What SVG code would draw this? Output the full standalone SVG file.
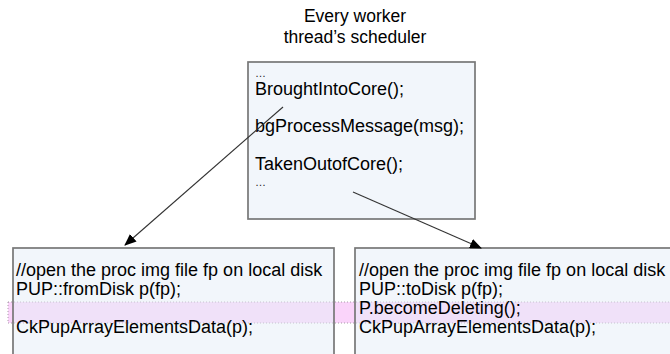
<svg xmlns="http://www.w3.org/2000/svg" width="670" height="354" viewBox="0 0 670 354">
  <defs>
    <marker id="arrow" markerWidth="12" markerHeight="10" refX="11" refY="5" orient="auto" markerUnits="userSpaceOnUse">
      <path d="M0,0 L12,5 L0,10 Z" fill="#000"/>
    </marker>
    <style>
      text { font-family: "Liberation Sans", Arial, sans-serif; font-size: 18px; fill: #000; }
      .title { text-anchor: middle; font-size: 17.5px; }
      .dots { font-size: 11px; fill: #222; }
      .box { fill: rgb(230,237,247); fill-opacity: 0.5; stroke: #777; stroke-width: 1.7; }
      .band { fill: #fad4fa; stroke: #a89aa8; stroke-width: 1; stroke-dasharray: 1 2; }
      .conn { stroke: #333; stroke-width: 1.1; fill: none; marker-end: url(#arrow); }
    </style>
  </defs>

  <!-- highlighted row spanning both lower panels -->
  <rect class="band" x="8" y="302" width="680" height="21"/>

  <g id="scheduler-title">
    <text class="title" x="355" y="22">Every worker</text>
    <text class="title" x="355" y="43">thread’s scheduler</text>
  </g>

  <g id="scheduler">
    <rect class="box" x="248" y="62" width="227" height="157"/>
    <text class="dots" x="255" y="77">…</text>
    <text x="255" y="95">BroughtIntoCore();</text>
    <text x="255" y="132">bgProcessMessage(msg);</text>
    <text x="255" y="170">TakenOutofCore();</text>
    <text class="dots" x="255" y="186">…</text>
  </g>

  <g id="bring-in">
    <rect class="box" x="13" y="248" width="321" height="120"/>
    <text x="16" y="276">//open the proc img file fp on local disk</text>
    <text x="16" y="295">PUP::fromDisk p(fp);</text>
    <text x="16" y="333">CkPupArrayElementsData(p);</text>
  </g>

  <g id="take-out">
    <rect class="box" x="355" y="248" width="330" height="120"/>
    <text x="359" y="276">//open the proc img file fp on local disk</text>
    <text x="359" y="295">PUP::toDisk p(fp);</text>
    <text x="359" y="314">P.becomeDeleting();</text>
    <text x="359" y="333">CkPupArrayElementsData(p);</text>
  </g>

  <g id="connectors">
    <line class="conn" x1="283" y1="107" x2="125" y2="245"/>
    <line class="conn" x1="353" y1="192" x2="481" y2="248"/>
  </g>
</svg>
